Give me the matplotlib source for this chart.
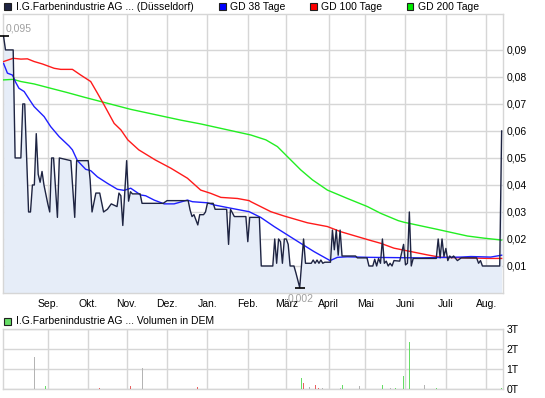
import matplotlib
matplotlib.use("Agg")
import matplotlib.pyplot as plt
from matplotlib.patches import Rectangle
import numpy as np

plt.rcParams['font.family'] = ['Liberation Sans', 'DejaVu Sans']

# ---------------- data ----------------
month_labels = ["Sep.", "Okt.", "Nov.", "Dez.", "Jan.", "Feb.", "März",
                "April", "Mai", "Juni", "Juli", "Aug."]
month_start_day = [23, 44, 64, 85, 106, 127, 147, 169, 188, 209, 230, 251]

price_day = [0, 1, 5, 6, 9, 10, 11, 13, 14, 15, 16, 17, 18, 19, 20, 21, 23, 24,
             25, 26, 28, 29, 32, 35, 37, 38, 44, 45, 46, 48, 50, 52, 54, 56, 59,
             60, 61, 62, 64, 65, 66, 67, 71, 72, 83, 85, 96, 97, 98, 99, 101,
             102, 104, 105, 106, 109, 110, 116, 117, 118, 120, 126, 127, 128,
             133, 134, 140, 141, 142, 143, 144, 145, 146, 147, 148, 149, 151,
             152, 154, 156, 157, 160, 161, 162, 163, 164, 165, 166, 167, 170,
             171, 172, 173, 174, 175, 176, 183, 184, 189, 190, 192, 193, 194,
             195, 196, 197, 198, 199, 200, 201, 202, 203, 206, 208, 209, 210,
             211, 212, 213, 225, 226, 227, 228, 229, 230, 231, 232, 233, 234,
             236, 238, 246, 247, 248, 249, 258, 259]
price_value = [0.095, 0.090, 0.090, 0.050, 0.050, 0.070, 0.070, 0.030, 0.030,
               0.040, 0.040, 0.059, 0.044, 0.041, 0.045, 0.040, 0.033, 0.030,
               0.050, 0.050, 0.028, 0.050, 0.0495, 0.049, 0.028, 0.049, 0.049,
               0.042, 0.030, 0.037, 0.037, 0.030, 0.031, 0.033, 0.032,
               0.037, 0.036, 0.025, 0.049, 0.034, 0.0375, 0.0367, 0.0367, 0.0332,
               0.0332, 0.0342, 0.0342, 0.0307, 0.0283, 0.029, 0.0252,
               0.029, 0.029, 0.030, 0.0332, 0.0332, 0.031, 0.031, 0.018, 0.031,
               0.0283, 0.0283, 0.019, 0.028,
               0.028, 0.010, 0.010, 0.020, 0.011, 0.020, 0.019, 0.011, 0.020,
               0.020, 0.018, 0.010, 0.010,
               0.0075, 0.002, 0.020, 0.011, 0.011, 0.0122, 0.011, 0.0122,
               0.011, 0.0122, 0.011, 0.0114, 0.0114,
               0.0233, 0.016, 0.0233, 0.014, 0.0233, 0.0137, 0.0137, 0.013,
               0.013, 0.010, 0.010, 0.0125, 0.010,
               0.0128, 0.011, 0.020, 0.011, 0.0118, 0.010, 0.011, 0.010, 0.012,
               0.0118, 0.018, 0.0104, 0.011,
               0.030, 0.010, 0.0128, 0.0128, 0.020, 0.013, 0.020, 0.0135,
               0.0165, 0.012, 0.0137, 0.013, 0.0137,
               0.012, 0.013, 0.013, 0.011, 0.012, 0.010, 0.010, 0.060]

gd38_day = [0, 2, 4.6, 6.3, 8, 10.7, 14.1, 15.9, 21.1, 24.5, 28.9, 34.1, 35.8,
            38.4, 42.7, 45.3, 48.8, 54, 59.2, 62.7, 66.1, 71.3, 73.9, 78.3,
            83.5, 88.7, 95.6, 98.2, 106, 109.5, 118.1, 127.7, 133.7, 140.7,
            147.6, 154.5, 161.5, 169.8, 173.6, 178.8, 190.1, 217, 237.8, 243,
            253.3, 259]
gd38_value = [0.085, 0.0814, 0.0807, 0.078, 0.0758, 0.0746, 0.0709, 0.069,
              0.0653, 0.0616, 0.0579, 0.0544, 0.053, 0.049, 0.0458, 0.0453,
              0.043, 0.0406, 0.0384, 0.038, 0.0388, 0.0363, 0.036, 0.0344,
              0.033, 0.033, 0.0344, 0.0338, 0.0334, 0.0326, 0.0314, 0.0301,
              0.028, 0.0246, 0.0215, 0.0184, 0.0153, 0.012, 0.0132, 0.0134,
              0.0132, 0.013, 0.0133, 0.0135, 0.0133, 0.014]

gd100_day = [0, 5, 9, 12.4, 15.9, 20.2, 26.3, 29.7, 35.8, 40.1, 45.3, 48.8,
             52.3, 57.5, 61, 64.6, 70.3, 78.8, 87, 95.6, 102.5, 107.7, 113,
             121.6, 127.7, 128.6, 139, 145.9, 158, 168.4, 175.3, 190.1, 196.1,
             203, 210, 220.4, 227.4, 253.3, 259]
gd100_value = [0.0857, 0.0869, 0.0866, 0.0867, 0.0857, 0.0848, 0.0832, 0.0828,
               0.0828, 0.0807, 0.0783, 0.074, 0.0696, 0.0628, 0.0604, 0.0567,
               0.053, 0.0493, 0.0462, 0.0425, 0.0381, 0.0369, 0.0354, 0.035,
               0.0342, 0.0338, 0.0301, 0.0285, 0.026, 0.0246, 0.0227, 0.0196,
               0.0184, 0.0166, 0.0156, 0.0141, 0.0132, 0.0128, 0.0128]

gd200_day = [0, 5, 9, 15.9, 24.5, 33.2, 41.9, 50.5, 57.5, 66.1, 92.2, 102.5,
             128.6, 136.4, 142.4, 147.6, 154.5, 160.6, 168.4, 178.8, 189.2,
             196.1, 205.2, 208.2, 225.3, 241.2, 249.9, 259]
gd200_value = [0.0789, 0.0791, 0.0783, 0.0774, 0.0758, 0.0742, 0.0725, 0.0709,
               0.0696, 0.068, 0.064, 0.0626, 0.0585, 0.0567, 0.0542, 0.0505,
               0.0456, 0.0419, 0.0381, 0.035, 0.032, 0.0295, 0.0268, 0.0262,
               0.0236, 0.0211, 0.0203, 0.0196]

volume_day = [16, 22, 50, 66, 72, 101, 155, 156, 159, 162, 164, 166, 175, 176,
              185, 197, 201, 204, 208, 211, 219, 225, 259]
volume_T = [1.6, 0.16, 0.06, 0.17, 1.07, 0.11, 0.56, 0.3, 0.1, 0.2, 0.05, 0.05,
            0.05, 0.2, 0.15, 0.2, 0.05, 0.05, 0.66, 2.39, 0.2, 0.05, 0.05]
volume_dir = ["flat", "up", "down", "down", "flat", "down", "up", "down",
              "flat", "down", "down", "flat", "flat", "up", "flat", "up", "flat",
              "up", "up", "up", "flat", "up", "up"]

price_ticks = [0.01, 0.02, 0.03, 0.04, 0.05, 0.06, 0.07, 0.08, 0.09]
volume_ticks = [0, 1, 2, 3]

legend_names = ["I.G.Farbenindustrie AG ... (Düsseldorf)", "GD 38 Tage",
                "GD 100 Tage", "GD 200 Tage"]
volume_legend = "I.G.Farbenindustrie AG ... Volumen in DEM"

# ---------------- style ----------------
W, H = 545, 398
GRID = "#d6d6d6"
C_PRICE = "#1e2442"
C_FILL = "#e6edf8"
C_38 = "#1f1fff"
C_100 = "#ff1a1a"
C_200 = "#22ee22"
VOL_COL = {"up": "#66dd66", "down": "#e86060", "flat": "#b4b4b4"}
FS = 7.5

def fx(x):
    return x / W

def fy(y):
    return 1 - y / H

fig = plt.figure(figsize=(W / 100, H / 100), dpi=100)
fig.patch.set_facecolor("white")

xlo, xhi = -0.4, 259.6

# main axes
ax = fig.add_axes([fx(2.8), fy(293), fx(502.8) - fx(2.8), fy(14) - fy(293)])
ax.set_xlim(xlo, xhi)
ax.set_ylim(0, 0.1033)
ax.fill_between(price_day, price_value, 0, color=C_FILL, lw=0, zorder=1)
ax.plot(gd200_day, gd200_value, color=C_200, lw=1.0, zorder=3)
ax.plot(gd100_day, gd100_value, color=C_100, lw=1.0, zorder=3)
ax.plot(gd38_day, gd38_value, color=C_38, lw=1.0, zorder=3)
ax.plot(price_day, price_value, color=C_PRICE, lw=1.0, zorder=4)

ax.set_yticks(price_ticks)
ax.set_yticklabels([f"{v:.2f}".replace(".", ",") for v in price_ticks])
ax.yaxis.tick_right()
ax.set_xticks(month_start_day)
ax.set_xticklabels(month_labels)
ax.tick_params(axis="both", length=0, labelsize=FS, colors="black")
ax.tick_params(axis="y", pad=2.8)
ax.tick_params(axis="x", pad=4.2)
ax.grid(True, color=GRID, lw=1.0, zorder=0)
ax.set_axisbelow(True)
for s in ax.spines.values():
    s.set_color(GRID)
    s.set_linewidth(1.0)

# max / min markers
imax = int(np.argmax(price_value))
imin = int(np.argmin(price_value))
ax.plot([price_day[imax]], [price_value[imax]], marker="_", ms=6.5, mew=1.2,
        color="black", zorder=5, clip_on=False)
ax.plot([price_day[imin]], [price_value[imin]], marker="_", ms=6.5, mew=1.2,
        color="black", zorder=5, clip_on=False)
ax.annotate(f"{price_value[imax]:.3f}".replace(".", ","),
            xy=(price_day[imax], price_value[imax]), xytext=(1.5, 2),
            textcoords="offset points", ha="left", va="bottom",
            fontsize=FS, color="#a0a0a0", zorder=6)
ax.annotate(f"{price_value[imin]:.3f}".replace(".", ","),
            xy=(price_day[imin], price_value[imin]), xytext=(0.5, -4.5),
            textcoords="offset points", ha="center", va="top",
            fontsize=FS, color="#a0a0a0", zorder=6, annotation_clip=False)

# volume axes
axv = fig.add_axes([fx(2.8), fy(389.3), fx(502.8) - fx(2.8), fy(329.3) - fy(389.3)])
axv.set_xlim(xlo, xhi)
axv.set_ylim(0, 3)
axv.bar(volume_day, volume_T, width=0.55,
        color=[VOL_COL[d] for d in volume_dir], lw=0, zorder=3)
axv.set_yticks(volume_ticks)
axv.set_yticklabels([f"{v}T" for v in volume_ticks])
axv.yaxis.tick_right()
axv.set_xticks(month_start_day)
axv.set_xticklabels([])
axv.tick_params(axis="both", length=0, labelsize=FS, colors="black")
axv.tick_params(axis="y", pad=2.8)
axv.grid(True, color=GRID, lw=1.0, zorder=0)
axv.set_axisbelow(True)
for s in axv.spines.values():
    s.set_color(GRID)
    s.set_linewidth(1.0)

# legends (top)
leg_colors = [C_PRICE, "#0000ff", "#ff0000", "#00ee00"]
leg_sq_x = [3.5, 219, 310, 406.5]
leg_tx_x = [15.5, 230, 321, 418]
for name, col, sx, tx in zip(legend_names, leg_colors, leg_sq_x, leg_tx_x):
    fig.patches.append(Rectangle((fx(sx), fy(10)), 7 / W, 7 / H,
                                 transform=fig.transFigure, facecolor=col,
                                 edgecolor="#202020", lw=0.8))
    fig.text(fx(tx), fy(6.5), name, fontsize=FS, va="center", ha="left")

fig.patches.append(Rectangle((fx(3.5), fy(324.5)), 7 / W, 7 / H,
                             transform=fig.transFigure, facecolor="#66dd66",
                             edgecolor="#202020", lw=0.8))
fig.text(fx(15.5), fy(321.5), volume_legend, fontsize=FS, va="center", ha="left")

fig.savefig("out.png", dpi=100, facecolor="white")
